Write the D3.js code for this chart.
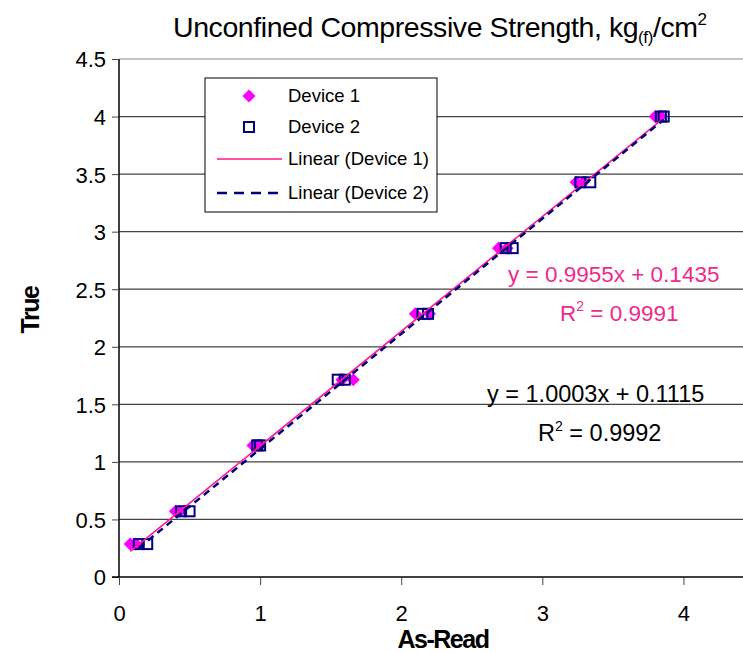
<!DOCTYPE html>
<html>
<head>
<meta charset="utf-8">
<script src="https://cdn.jsdelivr.net/npm/d3@7"></script>
<style>
  body { margin: 0; background: #fff; }
  svg { display: block; font-family: "Liberation Sans", Arial, sans-serif; }
</style>
</head>
<body>
<div id="chart"></div>
<script>
// true values (same for both devices), two readings per level
const trueVals = [0.286, 0.571, 1.143, 1.714, 2.286, 2.857, 3.429, 4.0];
const device1 = [[0.08, 0.12], [0.40, 0.43], [0.95, 0.99], [1.58, 1.66], [2.10, 2.20], [2.69, 2.75], [3.24, 3.29], [3.80, 3.84]];
const device2 = [[0.14, 0.20], [0.44, 0.50], [0.98, 1.00], [1.55, 1.60], [2.15, 2.19], [2.74, 2.79], [3.27, 3.34], [3.84, 3.86]];
const fit1 = {slope: 0.9955, icept: 0.1435, r2: "0.9991"};
const fit2 = {slope: 1.0003, icept: 0.1115, r2: "0.9992"};
const xTicks = [0, 1, 2, 3, 4];
const yTicks = [0, 0.5, 1, 1.5, 2, 2.5, 3, 3.5, 4, 4.5];

const W = 743, H = 653;
const margin = {top: 59, right: -11, bottom: 76, left: 119};

const pts1 = [], pts2 = [];
trueVals.forEach((t, i) => {
    device1[i].forEach(x => pts1.push({x, y: t}));
    device2[i].forEach(x => pts2.push({x, y: t}));
});

const svg = d3.select("#chart").append("svg")
    .attr("width", W)
    .attr("height", H);

const x = d3.scaleLinear().domain([0, 4.5]).range([margin.left, W - margin.right]);
const y = d3.scaleLinear().domain([0, 4.5]).range([H - margin.bottom, margin.top]);

// gridlines
svg.append("g")
    .selectAll("line")
    .data(yTicks.filter(d => d > 0))
    .enter().append("line")
    .attr("x1", x(0)).attr("x2", W)
    .attr("y1", d => y(d)).attr("y2", d => y(d))
    .attr("stroke", d => d === 4.5 ? "#888" : "#444")
    .attr("stroke-width", 1.2);

// axes
const yAxis = d3.axisLeft(y).tickValues(yTicks).tickSize(7).tickPadding(6)
    .tickFormat(d3.format("~g"));
const gy = svg.append("g")
    .attr("transform", "translate(" + x(0) + ",0)")
    .call(yAxis);
gy.select(".domain").attr("stroke", "#000").attr("stroke-width", 1.5)
    .attr("d", "M0," + y(4.5) + "V" + y(0));
gy.selectAll(".tick line").attr("stroke", "#444");
gy.selectAll(".tick text").style("font-size", "22px").attr("fill", "#000").attr("dy", "0.36em");

const xAxis = d3.axisBottom(x).tickValues(xTicks).tickSize(8).tickPadding(20)
    .tickFormat(d3.format("d"));
const gx = svg.append("g")
    .attr("transform", "translate(0," + y(0) + ")")
    .call(xAxis);
gx.select(".domain").attr("stroke", "#000").attr("stroke-width", 1.5)
    .attr("d", "M" + (x(0) - 7) + ",0H" + W);
gx.selectAll(".tick line").attr("stroke", "#444");
gx.selectAll(".tick text").style("font-size", "22px").attr("fill", "#000");

// markers
const diamond = d3.symbol().type(d3.symbolDiamond2).size(110);
svg.append("g").selectAll("path")
    .data(pts1)
    .enter().append("path")
    .attr("d", diamond)
    .attr("transform", d => "translate(" + x(d.x) + "," + y(d.y) + ")")
    .attr("fill", "#ff00ff");

svg.append("g").selectAll("rect")
    .data(pts2)
    .enter().append("rect")
    .attr("x", d => x(d.x) - 5)
    .attr("y", d => y(d.y) - 5)
    .attr("width", 10).attr("height", 10)
    .attr("fill", "none")
    .attr("stroke", "#000080")
    .attr("stroke-width", 2);

// trendlines across the range of each device's readings
function trend(pts, f) {
    const ext = d3.extent(pts, d => d.x);
    return ext.map(v => ({x: v, y: f.slope * v + f.icept}));
}
const line = d3.line().x(d => x(d.x)).y(d => y(d.y));

svg.append("path")
    .datum(trend(pts1, fit1))
    .attr("d", line)
    .attr("fill", "none")
    .attr("stroke", "#ff1a8c")
    .attr("stroke-width", 1.6);

svg.append("path")
    .datum(trend(pts2, fit2))
    .attr("d", line)
    .attr("fill", "none")
    .attr("stroke", "#000080")
    .attr("stroke-width", 2.5)
    .attr("stroke-dasharray", "7,5");

// equations
function eqn(f, color, x1, x2, yb, fs) {
    svg.append("text")
        .attr("x", x1).attr("y", yb)
        .style("font-size", fs + "px")
        .attr("fill", color)
        .text("y = " + f.slope.toFixed(4) + "x + " + f.icept.toFixed(4));
    const r = svg.append("text")
        .attr("x", x2).attr("y", yb + 39)
        .style("font-size", fs + "px")
        .attr("fill", color);
    r.append("tspan").text("R");
    r.append("tspan").attr("dy", -10).style("font-size", "14px").text("2");
    r.append("tspan").attr("dy", 10).text(" = " + f.r2);
}
eqn(fit1, "#f0288c", 508, 560, 282, 22.5);
eqn(fit2, "#000", 487, 538, 402, 23.5);

// title
const title = svg.append("text")
    .attr("x", 173).attr("y", 37)
    .attr("textLength", 534)
    .attr("lengthAdjust", "spacing")
    .style("font-size", "28.5px")
    .attr("fill", "#000");
title.append("tspan").text("Unconfined Compressive Strength, kg");
title.append("tspan").attr("dy", 6).style("font-size", "17px").text("(f)");
title.append("tspan").attr("dy", -6).text("/cm");
title.append("tspan").attr("dy", -12).style("font-size", "17px").text("2");

// axis titles
svg.append("text")
    .attr("x", 443).attr("y", 648)
    .attr("text-anchor", "middle")
    .style("font-size", "25px")
    .style("font-weight", "bold")
    .style("letter-spacing", "-1.5px")
    .text("As-Read");

svg.append("text")
    .attr("transform", "translate(39,310) rotate(-90)")
    .attr("text-anchor", "middle")
    .style("font-size", "25px")
    .style("font-weight", "bold")
    .style("letter-spacing", "-1.5px")
    .text("True");

// legend
const lg = svg.append("g").attr("transform", "translate(205,78)");
lg.append("rect")
    .attr("width", 232).attr("height", 134)
    .attr("fill", "#fff").attr("stroke", "#000").attr("stroke-width", 1);
const items = ["Device 1", "Device 2", "Linear (Device 1)", "Linear (Device 2)"];
const rowY = [18, 49, 81, 115];
items.forEach((name, i) => {
    const g = lg.append("g").attr("transform", "translate(0," + rowY[i] + ")");
    if (i === 0) {
        g.append("path").attr("d", diamond).attr("transform", "translate(44,0)").attr("fill", "#ff00ff");
    } else if (i === 1) {
        g.append("rect").attr("x", 39).attr("y", -5).attr("width", 10).attr("height", 10)
            .attr("fill", "none").attr("stroke", "#000080").attr("stroke-width", 2);
    } else if (i === 2) {
        g.append("line").attr("x1", 12).attr("x2", 77).attr("stroke", "#ff1a8c").attr("stroke-width", 1.6);
    } else {
        g.append("line").attr("x1", 12).attr("x2", 77).attr("stroke", "#000080")
            .attr("stroke-width", 2.5).attr("stroke-dasharray", "10,7");
    }
    g.append("text")
        .attr("x", 83).attr("dy", "0.35em")
        .style("font-size", "18.5px")
        .text(name);
});
</script>
</body>
</html>
